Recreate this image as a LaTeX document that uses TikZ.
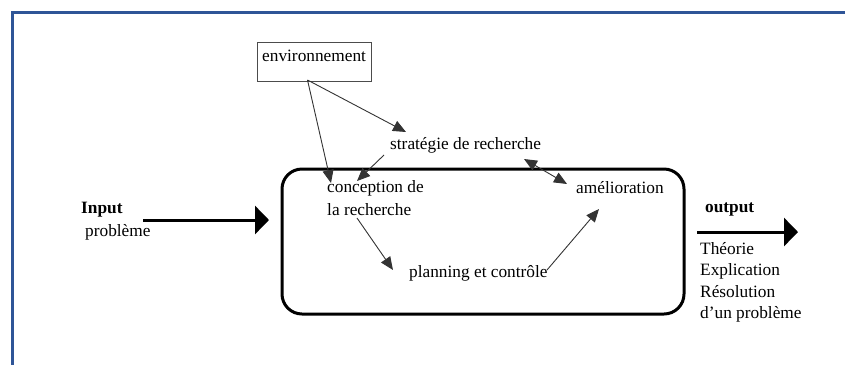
\documentclass[tikz,border=0pt]{standalone}
\usepackage{fontspec}
\setmainfont{Liberation Serif}
\usetikzlibrary{arrows.meta}
\definecolor{frameblue}{HTML}{2F5597}
\begin{document}
\begin{tikzpicture}[x=1pt,y=-1pt,
  lbl/.style={inner sep=0pt,anchor=west,font=\fontsize{17.3}{21}\selectfont},
  bl/.style={lbl,font=\fontsize{17.3}{21}\selectfont\bfseries},
  thin/.style={draw=black!80,line width=0.9pt,-{Triangle[length=13pt,width=11pt]}},
  thick/.style={draw=black,line width=3pt,-{Triangle[length=14pt,width=28pt]}}]
\useasboundingbox (0,0) rectangle (845,365);
% page frame, open on the right and at the bottom
\draw[frameblue,line width=2.6pt] (845,12.5) -- (12.5,12.5) -- (12.5,365);
% process container
\node[draw=black,line width=3pt,rounded corners=20pt,minimum width=402pt,minimum height=145pt,inner sep=0pt] (proc) at (483,241.5) {};
% environment box
\node[draw=black!70,line width=0.8pt,minimum width=114pt,minimum height=39pt,inner sep=0pt] (env) at (314,62) {};
\node[lbl] (envt) at (262,56) {environnement};
\coordinate (envo) at (307.5,80);
% labels
\node[lbl] (strat) at (390,145) {stratégie de recherche};
\node[lbl] (conc) at (327,188) {conception de};
\node[lbl] (rech) at (327,210) {la recherche};
\node[lbl] (plan) at (409,273) {planning et contrôle};
\node[lbl] (amel) at (576,188) {amélioration};
\node[bl] (inp) at (81,210) {Input};
\node[lbl] (prob) at (85,232) {problème};
\node[bl] (outp) at (705,209) {output};
\node[lbl,align=left,anchor=north west,font=\fontsize{17.3}{21.5}\selectfont] (res) at (700,242) {Théorie\\Explication\\Résolution\\d’un problème};
% flow anchors
\coordinate (inA) at (143,220);
\coordinate (inB) at (269,220);
\coordinate (outA) at (697,232);
\coordinate (outB) at (798,232);
\coordinate (stratIn) at (406,132);
\coordinate (concIn) at (331,183);
\coordinate (stratOut) at (384,155);
\coordinate (concIn2) at (357,181);
\coordinate (rechOut) at (357,218);
\coordinate (planIn) at (393,270);
\coordinate (planOut) at (547,270);
\coordinate (amelIn) at (599,209);
\coordinate (dblA) at (524,159);
\coordinate (dblB) at (567,184);
% connectors
\draw[thick] (inA) -- (inB);
\draw[thick] (outA) -- (outB);
\draw[thin] (envo) -- (stratIn);
\draw[thin] (envo) -- (concIn);
\draw[thin] (stratOut) -- (concIn2);
\draw[thin] (rechOut) -- (planIn);
\draw[thin] (planOut) -- (amelIn);
\draw[thin,{Triangle[length=13pt,width=11pt]}-{Triangle[length=13pt,width=11pt]}] (dblA) -- (dblB);
\end{tikzpicture}
\end{document}
